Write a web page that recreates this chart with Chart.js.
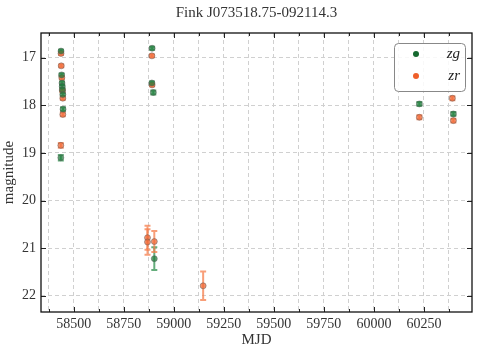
<!DOCTYPE html>
<html>
<head>
<meta charset="utf-8">
<script src="https://cdn.jsdelivr.net/npm/chart.js@4"></script>
<style>
  html, body { margin: 0; padding: 0; background: #fff; }
  #wrap { width: 479px; height: 353px; }
</style>
</head>
<body>
<div id="wrap"><canvas id="lc"></canvas></div>
<script>
const title = "Fink J073518.75-092114.3";
const bandNames = ["zg", "zr"];

// zg band
const zgMjd = [58437, 58440, 58442, 58443, 58444, 58446, 58447, 58436, 58892, 58891, 58898, 58903, 60227, 60397];
const zgMag = [16.86, 17.36, 17.53, 17.60, 17.67, 17.77, 18.08, 19.10, 16.80, 17.53, 17.73, 21.22, 17.97, 18.18];
const zgErr = [0.03, 0.03, 0.03, 0.03, 0.03, 0.03, 0.04, 0.06, 0.03, 0.03, 0.04, 0.24, 0.04, 0.04];

// zr band
const zrMjd = [58437, 58438, 58441, 58444, 58446, 58446, 58436, 58891, 58892, 58869, 58869, 58903, 59147, 60227, 60392, 60397];
const zrMag = [16.91, 17.17, 17.42, 17.69, 17.85, 18.19, 18.84, 16.96, 17.57, 20.78, 20.87, 20.86, 21.79, 18.25, 17.85, 18.32];
const zrErr = [0.03, 0.03, 0.03, 0.03, 0.03, 0.04, 0.05, 0.03, 0.03, 0.25, 0.27, 0.22, 0.30, 0.04, 0.04, 0.04];

const xTicks = [58500, 58750, 59000, 59250, 59500, 59750, 60000, 60250];
const yTicks = [17, 18, 19, 20, 21, 22];

const serif = "'Liberation Serif', 'DejaVu Serif', serif";
const colors = {
    zg: { solid: "#16692f", fill: "rgba(30,125,60,0.72)", bar: "rgba(50,145,80,0.75)" },
    zr: { solid: "#ef5f2a", fill: "rgba(242,105,55,0.75)", bar: "rgba(245,125,75,0.75)" }
};

function pts(xs, ys) { return xs.map((x, i) => ({ x: x, y: ys[i] })); }

const extras = {
    id: "extras",
    beforeDatasetsDraw(chart) {
        const ctx = chart.ctx, xs = chart.scales.x, ys = chart.scales.y;
        const sets = [[zgMjd, zgMag, zgErr, colors.zg.bar], [zrMjd, zrMag, zrErr, colors.zr.bar]];
        ctx.save();
        ctx.lineWidth = 2;
        sets.forEach(s => {
            ctx.strokeStyle = s[3];
            s[0].forEach((m, i) => {
                const px = xs.getPixelForValue(m);
                const y1 = ys.getPixelForValue(s[1][i] - s[2][i]);
                const y2 = ys.getPixelForValue(s[1][i] + s[2][i]);
                ctx.beginPath();
                ctx.moveTo(px, y1); ctx.lineTo(px, y2);
                ctx.moveTo(px - 3, y1); ctx.lineTo(px + 3, y1);
                ctx.moveTo(px - 3, y2); ctx.lineTo(px + 3, y2);
                ctx.stroke();
            });
        });
        ctx.restore();
    },
    afterDraw(chart) {
        const ctx = chart.ctx, a = chart.chartArea, xs = chart.scales.x, ys = chart.scales.y;
        ctx.save();
        // ticks pointing inward on all sides
        ctx.strokeStyle = "#222";
        ctx.lineWidth = 1;
        xs.ticks.forEach(t => {
            const px = Math.round(xs.getPixelForValue(t.value)) + 0.5;
            const len = (t.value % 250 === 0) ? 5 : 3;
            ctx.beginPath();
            ctx.moveTo(px, a.bottom); ctx.lineTo(px, a.bottom - len);
            ctx.moveTo(px, a.top); ctx.lineTo(px, a.top + len);
            ctx.stroke();
        });
        ys.ticks.forEach(t => {
            const py = Math.round(ys.getPixelForValue(t.value)) + 0.5;
            ctx.beginPath();
            ctx.moveTo(a.left, py); ctx.lineTo(a.left + 5, py);
            ctx.moveTo(a.right, py); ctx.lineTo(a.right - 5, py);
            ctx.stroke();
        });
        // frame
        ctx.lineWidth = 1.3;
        ctx.strokeStyle = "#111";
        ctx.strokeRect(a.left, a.top, a.right - a.left, a.bottom - a.top);
        // title
        ctx.fillStyle = "#333";
        ctx.font = "15px " + serif;
        ctx.textAlign = "center";
        ctx.textBaseline = "middle";
        ctx.fillText(title, (a.left + a.right) / 2, 13);
        // legend
        const bx = 394, by = 43, bw = 71, bh = 48;
        ctx.fillStyle = "rgba(255,255,255,0.85)";
        ctx.strokeStyle = "#888";
        ctx.lineWidth = 1;
        ctx.beginPath();
        ctx.roundRect(bx + 0.5, by + 0.5, bw, bh, 4);
        ctx.fill(); ctx.stroke();
        bandNames.forEach((b, i) => {
            const cy = by + 11 + i * 22;
            ctx.beginPath();
            ctx.arc(bx + 22, cy, 3, 0, Math.PI * 2);
            ctx.fillStyle = colors[b].solid;
            ctx.fill();
            ctx.fillStyle = "#222";
            ctx.font = "italic 15px " + serif;
            ctx.textAlign = "right";
            ctx.fillText(b, bx + bw - 5, cy);
        });
        ctx.restore();
    }
};

new Chart(document.getElementById("lc"), {
    type: "scatter",
    data: {
        datasets: [
            { label: bandNames[0], data: pts(zgMjd, zgMag), backgroundColor: colors.zg.fill,
              borderColor: "rgba(90,90,90,0.6)", borderWidth: 0.8, pointRadius: 3 },
            { label: bandNames[1], data: pts(zrMjd, zrMag), backgroundColor: colors.zr.fill,
              borderColor: "rgba(90,90,90,0.6)", borderWidth: 0.8, pointRadius: 3 }
        ]
    },
    options: {
        responsive: true,
        maintainAspectRatio: false,
        animation: false,
        layout: { padding: { top: 33, right: 7, left: 0, bottom: 0 } },
        plugins: { legend: { display: false }, title: { display: false }, tooltip: { enabled: false } },
        scales: {
            x: {
                type: "linear", min: 58337, max: 60490,
                afterFit: s => { s.height = 41; },
                border: { display: false, dash: [4, 3] },
                grid: { color: "#d0d0d0", drawTicks: false, lineWidth: 1 },
                ticks: {
                    stepSize: 125, includeBounds: false, padding: 4, color: "#333",
                    font: { family: serif, size: 14 },
                    autoSkip: false, maxRotation: 0,
                    callback: v => xTicks.includes(v) ? String(v) : ""
                },
                title: { display: true, text: "MJD", color: "#333", font: { family: serif, size: 15 }, padding: { top: 0, bottom: 4 } }
            },
            y: {
                type: "linear", reverse: true, min: 16.48, max: 22.34,
                afterFit: s => { s.width = 41; },
                border: { display: false, dash: [4, 3] },
                grid: { color: "#d0d0d0", drawTicks: false, lineWidth: 1 },
                ticks: {
                    stepSize: 1, includeBounds: false, padding: 5, color: "#333",
                    font: { family: serif, size: 14 },
                    callback: v => yTicks.includes(v) ? String(v) : ""
                },
                title: { display: true, text: "magnitude", color: "#333", font: { family: serif, size: 15 }, padding: { top: 0, bottom: 0 } }
            }
        }
    },
    plugins: [extras]
});
</script>
</body>
</html>
